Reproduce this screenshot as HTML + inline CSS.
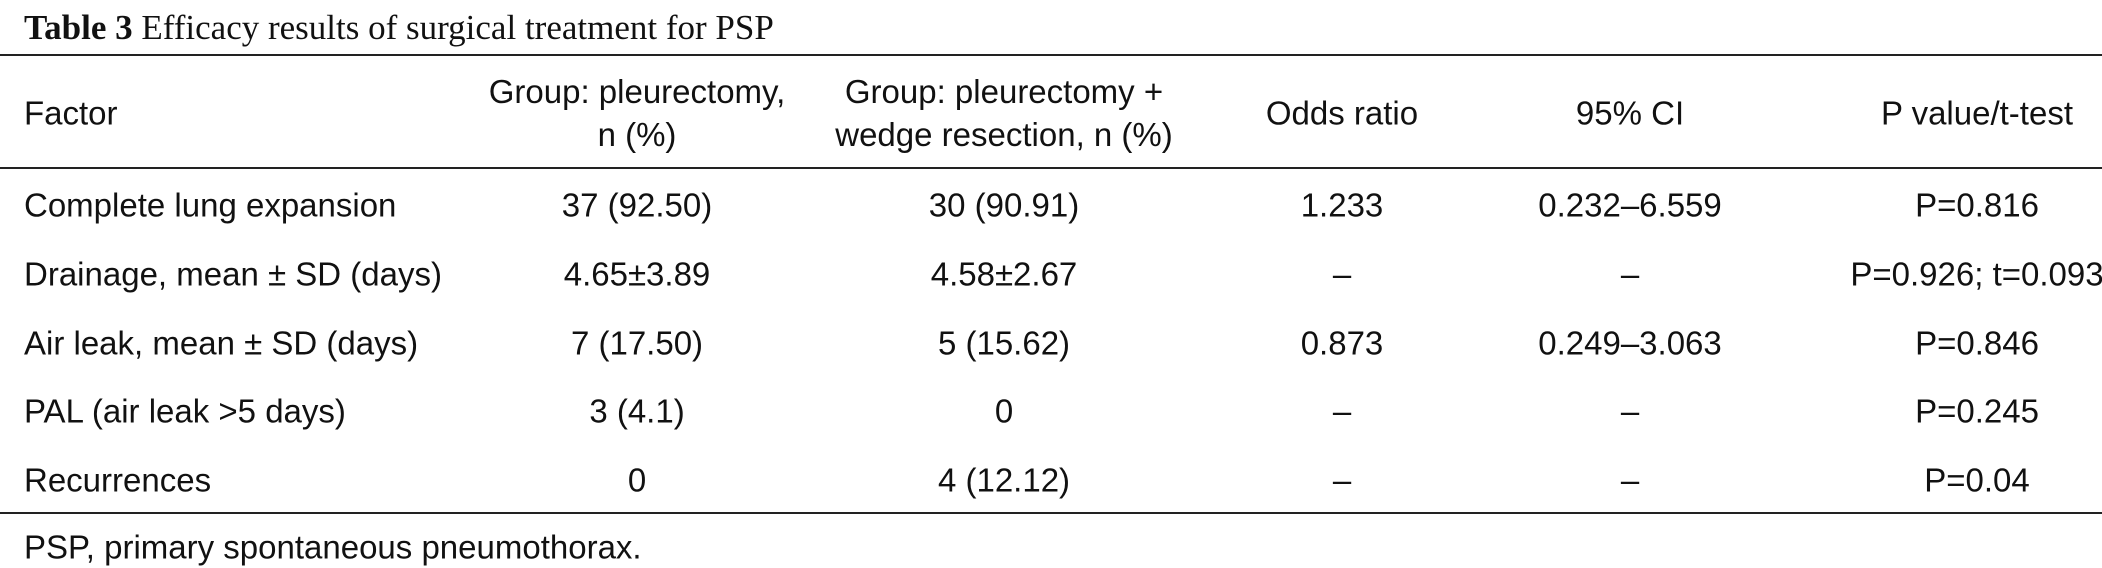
<!DOCTYPE html>
<html><head><meta charset="utf-8"><style>
body{margin:0;width:2102px;height:568px;background:#fff;position:relative;overflow:hidden;font-family:"Liberation Sans",sans-serif;color:#111}
.t{position:absolute;white-space:nowrap;font-size:33px;line-height:1}
.c{transform:translate(-50%,-50%)}
.l{transform:translateY(-50%)}
.rule{position:absolute;left:0;width:2102px;height:2px;background:#222}
</style></head><body>
<div class="t" style="left:24px;top:10px;font-family:'Liberation Serif',serif;font-size:35px"><b>Table 3</b> Efficacy results of surgical treatment for PSP</div>
<div class="rule" style="top:54px"></div>
<div class="rule" style="top:167px"></div>
<div class="rule" style="top:512px"></div>
<div class="t l" style="left:24px;top:113px">Factor</div>
<div class="t c" style="left:637px;top:113px;text-align:center;line-height:43px">Group: pleurectomy,<br>n (%)</div>
<div class="t c" style="left:1004px;top:113px;text-align:center;line-height:43px">Group: pleurectomy +<br>wedge resection, n (%)</div>
<div class="t c" style="left:1342px;top:113px">Odds ratio</div>
<div class="t c" style="left:1630px;top:113px">95% CI</div>
<div class="t c" style="left:1977px;top:113px">P value/t-test</div>
<div id="rows"></div>
<div class="t l" style="left:24px;top:547px">PSP, primary spontaneous pneumothorax.</div>
<script>
const rows=[
["Complete lung expansion","37 (92.50)","30 (90.91)","1.233","0.232–6.559","P=0.816"],
["Drainage, mean ± SD (days)","4.65±3.89","4.58±2.67","–","–","P=0.926; t=0.093"],
["Air leak, mean ± SD (days)","7 (17.50)","5 (15.62)","0.873","0.249–3.063","P=0.846"],
["PAL (air leak >5 days)","3 (4.1)","0","–","–","P=0.245"],
["Recurrences","0","4 (12.12)","–","–","P=0.04"]];
const ys=[205,274,343,411,480];
const xs=[24,637,1004,1342,1630,1977];
const names=['factor','group1','group2','odds-ratio','ci','p-value'];
const host=document.getElementById('rows');
rows.forEach((r,i)=>{r.forEach((v,j)=>{
const d=document.createElement('div');
d.className='t '+(j===0?'l':'c');
d.style.left=xs[j]+'px';d.style.top=ys[i]+'px';
d.textContent=v;


host.appendChild(d);});});
</script>
</body></html>
